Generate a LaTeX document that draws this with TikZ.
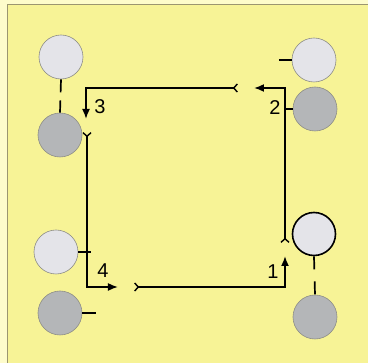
\documentclass[tikz,border=0pt]{standalone}
\usepackage{fontspec}
\setmainfont{Liberation Sans}
\usetikzlibrary{arrows.meta}
\definecolor{paper}{HTML}{FEFCCB}
\definecolor{panel}{HTML}{F7F396}
\definecolor{frame}{HTML}{9C9670}
\definecolor{rollLight}{HTML}{E4E4E9}
\definecolor{rollDark}{HTML}{B4B6B8}
\definecolor{rollEdge}{HTML}{8E8E86}
\tikzset{
  roll/.style={circle, minimum size=44pt, inner sep=0pt, draw=rollEdge, line width=0.6pt},
  lightroll/.style={roll, fill=rollLight},
  darkroll/.style={roll, fill=rollDark},
  activeroll/.style={circle, minimum size=43pt, inner sep=0pt, fill=rollLight, draw=black, line width=1.6pt},
  feed/.style={line width=1.7pt, black,
    arrows={Straight Barb[reversed, length=3.5pt, width=8pt, line width=1.4pt]-Latex[length=10pt, width=8pt]}},
  tick/.style={line width=1.7pt, black},
  stepnum/.style={inner sep=0pt, font=\fontsize{20}{22}\selectfont}
}
\begin{document}
\begin{tikzpicture}[x=1pt, y=-1pt]
  % sheet and panel
  \useasboundingbox (0,0) rectangle (368,363);
  \fill[paper] (0,0) rectangle (368,363);
  \fill[panel] (7.5,4.5) rectangle (368,363);
  \draw[frame, line width=1pt] (7.5,363) -- (7.5,4.5) -- (368,4.5);

  % rollers
  \node[lightroll] (tl) at (61,57) {};
  \node[darkroll] (tld) at (60,135) {};
  \node[lightroll] (tr) at (314,60) {};
  \node[darkroll] (trd) at (315,109) {};
  \node[lightroll] (bl) at (56,252) {};
  \node[darkroll] (bld) at (60,313) {};
  \node[activeroll] (br) at (314,234) {};
  \node[darkroll] (brd) at (315,317) {};

  % roller links
  \draw[tick, dash pattern=on 13pt off 8pt] (tl.south) -- (tld.north);
  \draw[tick, dash pattern=on 13pt off 12pt] (br.south) -- (brd.north);

  % path corners and ends
  \coordinate (s3) at (238,88);
  \coordinate (k3) at (86,88);
  \coordinate (e3) at (86,119);
  \coordinate (s2) at (285,243);
  \coordinate (k2) at (285,88);
  \coordinate (e2) at (254,88);
  \coordinate (s1) at (134,287);
  \coordinate (k1) at (285,287);
  \coordinate (e1) at (285,256);
  \coordinate (s4) at (87,132);
  \coordinate (k4) at (87,287);
  \coordinate (e4) at (118,287);

  \draw[feed] (s1) -- (k1) -- (e1);
  \draw[feed] (s2) -- (k2) -- (e2);
  \draw[feed] (s3) -- (k3) -- (e3);
  \draw[feed] (s4) -- (k4) -- (e4);

  % short marks at the rollers
  \coordinate (m1) at (279,60);
  \coordinate (m2) at (285,109);
  \coordinate (m3) at (91,252);
  \coordinate (m4) at (96,313);
  \draw[tick] (m1) -- (tr.west);
  \draw[tick] (m2) -- (trd.west);
  \draw[tick] (bl.east) -- (m3);
  \draw[tick] (bld.east) -- (m4);

  % step numbers
  \node[stepnum] (n1) at (273,272) {1};
  \node[stepnum] (n2) at (275,108) {2};
  \node[stepnum] (n3) at (100,107) {3};
  \node[stepnum] (n4) at (103,271) {4};
\end{tikzpicture}
\end{document}
